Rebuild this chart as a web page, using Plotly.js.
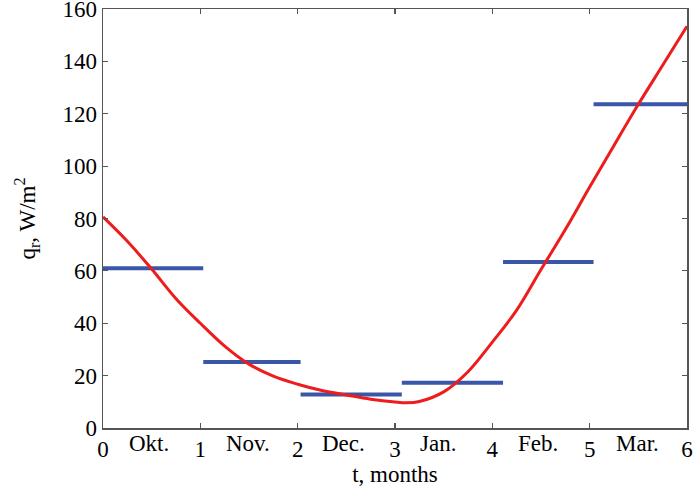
<!DOCTYPE html>
<html>
<head>
<meta charset="utf-8">
<script src="https://cdn.plot.ly/plotly-3.0.1.min.js"></script>
<style>html,body{margin:0;padding:0;background:#fff}#chart{width:693px;height:491px}</style>
</head>
<body>
<div id="chart"></div>
<script>
// Red curve q_r(t)
var curveT = [0, 0.25, 0.5, 0.75, 1.0, 1.25, 1.5, 1.75, 2.0, 2.25, 2.5, 2.75, 3.0, 3.12, 3.25, 3.5, 3.75, 4.0, 4.25, 4.5, 4.75, 5.0, 5.25, 5.5, 5.75, 6.0];
var curveQ = [80.6, 71.3, 60.7, 49.4, 40.0, 31.3, 24.4, 19.8, 16.7, 14.3, 12.6, 11.0, 9.9, 9.6, 10.1, 13.8, 21.5, 32.8, 45.0, 60.5, 75.8, 92.0, 107.9, 123.6, 138.5, 153.4];
// Monthly mean values (blue steps)
var monthStart = [0, 1.03, 2.03, 3.07, 4.11, 5.04];
var monthEnd = [1.03, 2.03, 3.07, 4.11, 5.04, 6.0];
var monthMean = [61, 25.2, 12.8, 17.3, 63.4, 123.6];
var monthNames = ["Okt.", "Nov.", "Dec.", "Jan.", "Feb.", "Mar."];
var monthLabelPos = [0.47, 1.49, 2.47, 3.44, 4.47, 5.49];
var xTicks = [0, 1, 2, 3, 4, 5, 6];
var yTicks = [0, 20, 40, 60, 80, 100, 120, 140, 160];

var FONT = "Liberation Serif, Times New Roman, serif";
var FS = 23;
var traces = [];
for (var i = 0; i < monthMean.length; i++) {
  traces.push({
    x: [monthStart[i], monthEnd[i]],
    y: [monthMean[i], monthMean[i]],
    mode: "lines",
    line: {color: "#3a56a9", width: 4},
    hoverinfo: "skip",
    showlegend: false
  });
}
traces.push({
  x: curveT, y: curveQ, mode: "lines",
  line: {color: "#ee1c1c", width: 3, shape: "spline", smoothing: 1},
  showlegend: false
});

var annotations = monthNames.map(function (m, i) {
  return {
    x: monthLabelPos[i], y: 0, xref: "x", yref: "paper",
    yanchor: "top", xanchor: "center", yshift: -1,
    text: m, showarrow: false,
    font: {family: FONT, size: FS, color: "#000"}
  };
});

var axisCommon = {
  showgrid: false, zeroline: false, showline: true, linecolor: "#555", linewidth: 1.5,
  mirror: "ticks", ticks: "inside", ticklen: 5, tickwidth: 1.2, tickcolor: "#555",
  ticklabeloverflow: "allow",
  tickfont: {family: FONT, size: FS, color: "#000"}
};

var layout = {
  width: 693, height: 491,
  margin: {l: 103, r: 6, t: 9, b: 63},
  paper_bgcolor: "#fff", plot_bgcolor: "#fff",
  showlegend: false,
  xaxis: Object.assign({}, axisCommon, {
    range: [0, 6], tickvals: xTicks, ticktext: xTicks.map(String),
    title: {text: "t, months", font: {family: FONT, size: FS, color: "#000"}, standoff: 2}
  }),
  yaxis: Object.assign({}, axisCommon, {
    range: [0, 160], tickvals: yTicks, ticktext: yTicks.map(String),
    title: {text: "q<sub>r</sub>, W/m<sup>2</sup>", font: {family: FONT, size: FS, color: "#000"}, standoff: 20}
  }),
  annotations: annotations
};

Plotly.newPlot("chart", traces, layout, {displayModeBar: false, staticPlot: true});
</script>
</body>
</html>
